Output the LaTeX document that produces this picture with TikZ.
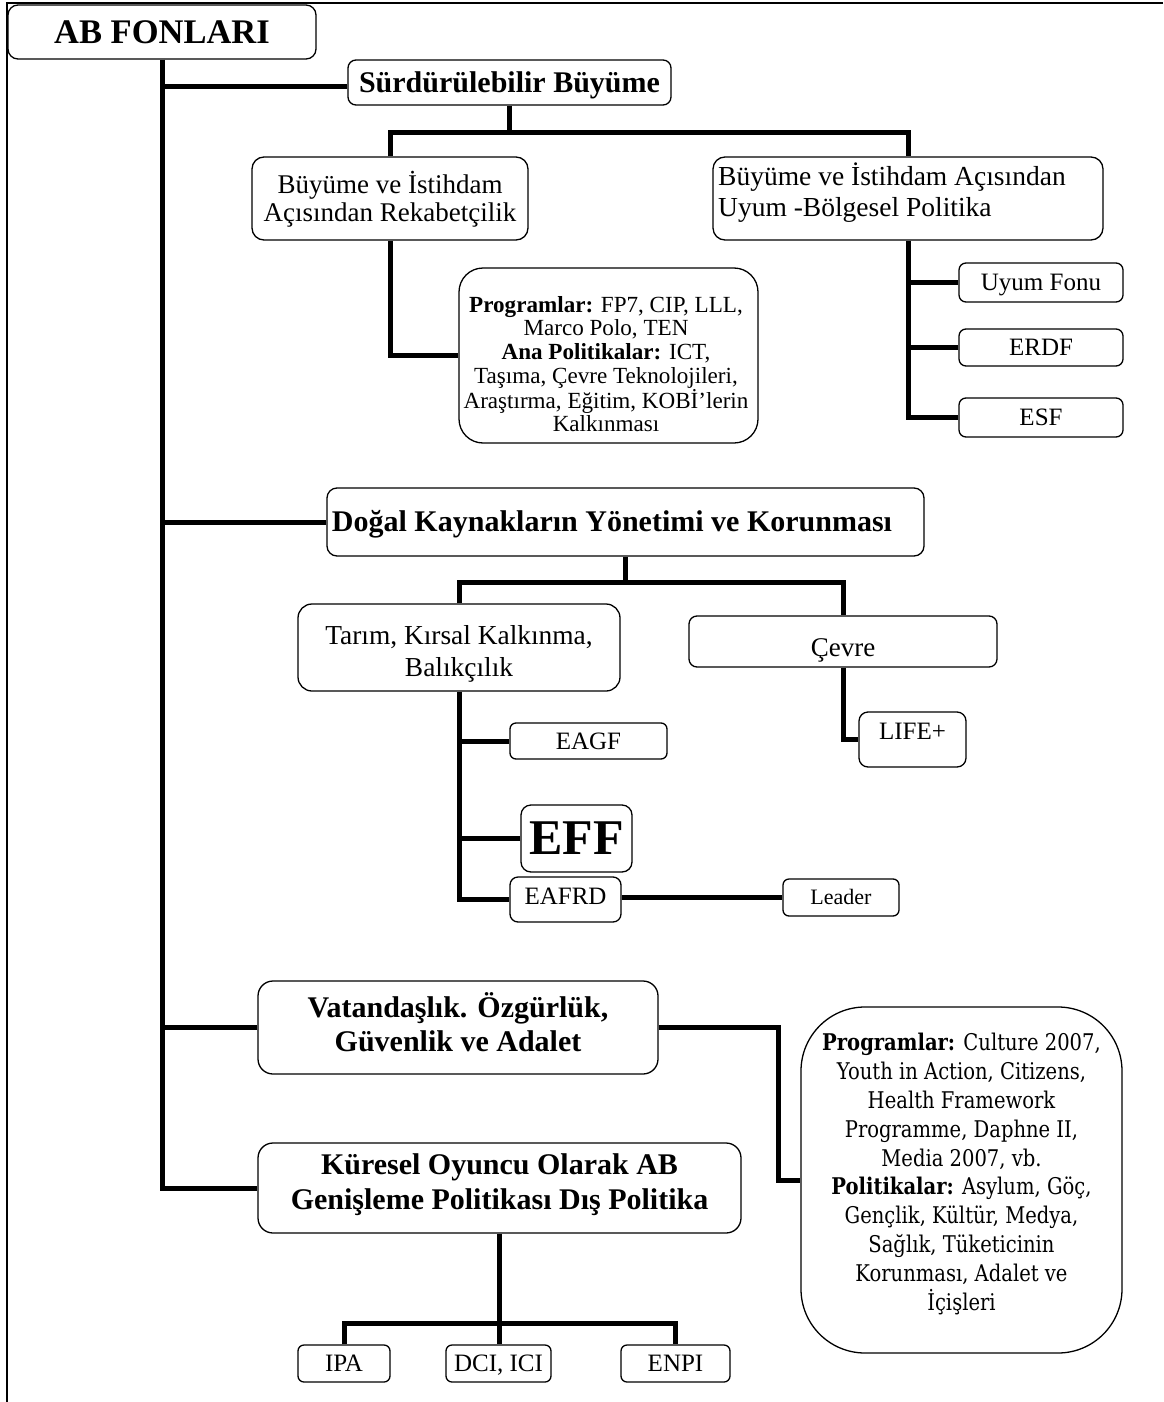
\documentclass[tikz,border=0pt]{standalone}
\usepackage{fontspec}
\setmainfont{Liberation Serif}
\newfontfamily\schfont[FakeStretch=0.85]{DejaVu Serif}
\newcommand\myfs[2]{\fontsize{#1}{#2}\selectfont}
\newcommand\cc[1]{\smash{#1}\vphantom{X}}
\tikzset{
  bx/.style={draw, line width=1.3pt, inner sep=0pt, anchor=center, align=center},
  tx/.style={inner sep=0pt, align=center},
  conn/.style={line width=5pt},
}
\newcommand\mkbox[7]{\node[bx, rounded corners=#6, minimum width={#4pt-#2pt}, minimum height={#5pt-#3pt}] (#1) at ({(#2+#4)/2},{(#3+#5)/2}) {#7};}
\begin{document}
\begin{tikzpicture}[x=1pt,y=-1pt]
\useasboundingbox (0,0) rectangle (1163,1402);
% frame
\draw[line width=1.3pt] (1163,3) -- (7,3) -- (7,1402);

% boxes
\mkbox{ab}{8}{5}{316}{59}{10pt}{\myfs{34.5}{38}\bfseries\cc{AB FONLARI}}
\mkbox{sur}{348}{60}{671}{105}{8pt}{\myfs{30}{34}\bfseries\cc{Sürdürülebilir Büyüme}}
\mkbox{bl}{252}{157}{528}{240}{12pt}{}
\node[tx, font=\myfs{27}{28}] (bl-t) at (390,199) {Büyüme ve İstihdam\\Açısından Rekabetçilik};
\mkbox{br}{713}{157}{1103}{240}{12pt}{}
\node[tx, align=left, anchor=west, font=\myfs{27.5}{31}] (br-t) at (718,192.5) {Büyüme ve İstihdam Açısından\\Uyum -Bölgesel Politika};
\mkbox{pa}{459}{268}{758}{443}{24pt}{}
\node[tx, font=\myfs{23.1}{23.7}] (pa-t) at (606,364) {\textbf{Programlar:} FP7, CIP, LLL,\\Marco Polo, TEN\\\textbf{Ana Politikalar:} ICT,\\Taşıma, Çevre Teknolojileri,\\Araştırma, Eğitim, KOBİ’lerin\\Kalkınması};
\mkbox{uf}{959}{263}{1123}{302}{7pt}{\myfs{25}{28}\cc{Uyum Fonu}}
\mkbox{erdf}{959}{329}{1123}{366}{7pt}{\myfs{25}{28}\cc{ERDF}}
\mkbox{esf}{959}{398}{1123}{437}{7pt}{\myfs{25}{28}\cc{ESF}}
\mkbox{dog}{327}{488}{924}{556}{10pt}{}
\node[tx, font=\myfs{30}{34}\bfseries] (dog-t) at (612,522) {\cc{Doğal Kaynakların Yönetimi ve Korunması}};
\mkbox{tar}{298}{604}{620}{691}{14pt}{}
\node[tx, font=\myfs{27.4}{32}] (tar-t) at (459,654) {Tarım, Kırsal Kalkınma,\\Balıkçılık};
\mkbox{cev}{689}{616}{997}{667}{8pt}{}
\node[tx, font=\myfs{27}{30}] (cev-t) at (843,648) {\cc{Çevre}};
\mkbox{life}{859}{712}{966}{767}{9pt}{}
\node[tx, font=\myfs{25}{28}] (life-t) at (912.5,731) {\cc{LIFE+}};
\mkbox{eagf}{510}{723}{667}{759}{6pt}{\myfs{25}{28}\cc{EAGF}}
\mkbox{eff}{521}{805}{632}{872}{10pt}{\myfs{50}{54}\bfseries\cc{EFF}}
\mkbox{eafrd}{510}{877}{621}{922}{8pt}{}
\node[tx, font=\myfs{25}{28}] (eafrd-t) at (565.5,896) {\cc{EAFRD}};
\mkbox{lead}{783}{879}{899}{916}{6pt}{\myfs{22}{25}\cc{Leader}}
\mkbox{vat}{258}{981}{658}{1074}{15pt}{}
\node[tx, font=\myfs{30}{34}\bfseries] (vat-t) at (458,1022) {Vatandaşlık. Özgürlük,\\Güvenlik ve Adalet};
\mkbox{kur}{258}{1143}{741}{1233}{15pt}{}
\node[tx, font=\myfs{30}{35}\bfseries] (kur-t) at (499.5,1185) {Küresel Oyuncu Olarak AB\\Genişleme Politikası Dış Politika};
\mkbox{pb}{801}{1007}{1122}{1353}{64pt}{}
\node[tx, font=\schfont\myfs{23}{28.9}] (pb-t) at (961.5,1174) {\textbf{Programlar:} Culture 2007,\\Youth in Action, Citizens,\\Health Framework\\Programme, Daphne II,\\Media 2007, vb.\\\textbf{Politikalar:} Asylum, Göç,\\Gençlik, Kültür, Medya,\\Sağlık, Tüketicinin\\Korunması, Adalet ve\\İçişleri};
\mkbox{ipa}{298}{1345}{390}{1382}{6pt}{\myfs{25}{28}\cc{IPA}}
\mkbox{dci}{446}{1345}{551}{1382}{6pt}{\myfs{25}{28}\cc{DCI, ICI}}
\mkbox{enpi}{621}{1345}{730}{1382}{6pt}{\myfs{25}{28}\cc{ENPI}}

% junction coordinates
\coordinate (s1) at ([yshift=-4.5pt]sur.west);
\coordinate (j1) at (0,133);
\coordinate (j2) at (0,582);
\coordinate (j3) at (0,1323);

% connectors
\draw[conn] (ab.south) |- (kur.west);
\draw[conn] (s1) -- (ab.south |- s1);
\draw[conn] (dog.west) -- (ab.south |- dog.west);
\draw[conn] (vat.west) -- (ab.south |- vat.west);

\draw[conn] (sur.south) -- (sur.south |- j1);
\draw[conn] (bl.north) -- (bl.north |- j1) -| (br.north);
\draw[conn] (bl.south) |- (pa.west);
\draw[conn] (br.south) |- (esf.west);
\draw[conn] (uf.west) -- (br.south |- uf.west);
\draw[conn] (erdf.west) -- (br.south |- erdf.west);

\draw[conn] (dog.south) -- (dog.south |- j2);
\draw[conn] (tar.north) -- (tar.north |- j2) -| (cev.north);
\draw[conn] (cev.south) |- (life.west);
\draw[conn] (tar.south) |- (eafrd.west);
\draw[conn] (eagf.west) -- (tar.south |- eagf.west);
\draw[conn] (eff.west) -- (tar.south |- eff.west);
\draw[conn] (eafrd.east |- lead.west) -- (lead.west);

\draw[conn] (vat.east) -- ++(120,0) |- (pb.west);

\draw[conn] (kur.south) -- (kur.south |- dci.north);
\draw[conn] (ipa.north) -- (ipa.north |- j3) -| (enpi.north);
\end{tikzpicture}
\end{document}
